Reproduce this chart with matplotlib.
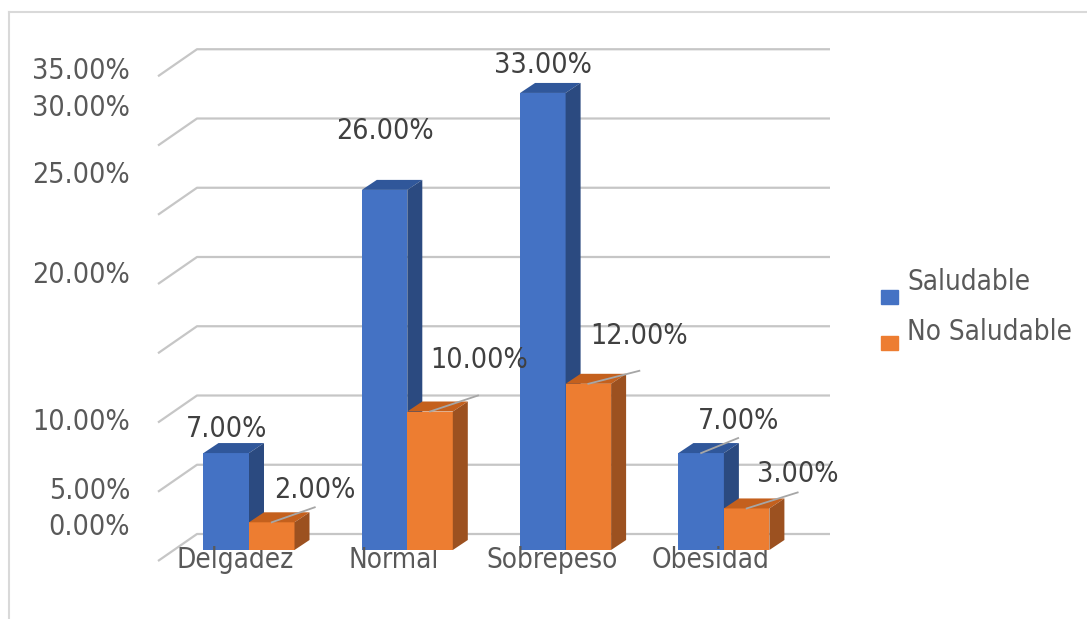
import matplotlib.pyplot as plt
from matplotlib.lines import Line2D
from matplotlib.patches import Polygon, Rectangle

categories = ["Delgadez", "Normal", "Sobrepeso", "Obesidad"]
series_names = ["Saludable", "No Saludable"]
saludable = [7.0, 26.0, 33.0, 7.0]
no_saludable = [2.0, 10.0, 12.0, 3.0]
grid_values = [0, 5, 10, 15, 20, 25, 30, 35]
# Excel left these axis labels slightly out of place (15% is missing)
axis_labels = ["35.00%", "30.00%", "25.00%", "20.00%", "10.00%", "5.00%", "0.00%"]
axis_label_y = [71, 108, 175, 275, 422, 491, 527]  # pixel rows

W, H = 1087, 619
PX_X = 158.3  # pixels per category
PX_Y = 13.85  # pixels per percent
X0, Y0 = 249, 550  # pixel of category 0 / value 0 on the bar front plane

front_col = ["#4472C4", "#ED7D31"]
side_col = ["#2B4A80", "#9C5120"]
top_col = ["#30579A", "#C4601D"]
text_dark = "#404040"
text_axis = "#595959"
grid_col = "#C6C6C6"

font = dict(family="DejaVu Sans", fontstretch="condensed")

fig = plt.figure(figsize=(W / 100, H / 100), dpi=100)
ax = fig.add_axes([0, 0, 1, 1])
ax.set_xlim(-X0 / PX_X, (W - X0) / PX_X)
ax.set_ylim((Y0 - H) / PX_Y, Y0 / PX_Y)
ax.axis("off")


def px(x, y):
    # pixel (from top-left) -> data coords
    return (x - X0) / PX_X, (Y0 - y) / PX_Y


# outer border
fig.add_artist(Line2D([9 / W, 9 / W], [0, 1 - 12 / H], color="#D9D9D9", lw=1.5))
fig.add_artist(Line2D([9 / W, 1], [1 - 12 / H, 1 - 12 / H], color="#D9D9D9", lw=1.5))

# back wall gridlines + floor/side diagonals
bx0, by0 = px(197, 534)
bx1, _ = px(830, 534)
fx0, fy0 = px(158, 561)
for v in grid_values:
    ax.plot([fx0, bx0, bx1], [fy0 + v, by0 + v, by0 + v], color=grid_col, lw=1.6,
            zorder=1, solid_capstyle="butt")

# 3D bars
w = 45.5 / PX_X
ddx, ddy = 15 / PX_X, 10 / PX_Y
for s, vals in enumerate([saludable, no_saludable]):
    for i, v in enumerate(vals):
        left = i - w + s * w
        z = 3 + s * 3
        ax.bar(left + w / 2, v, width=w, color=front_col[s], zorder=z)
        ax.add_patch(Polygon([(left, v), (left + w, v), (left + w + ddx, v + ddy),
                              (left + ddx, v + ddy)], closed=True,
                             facecolor=top_col[s], edgecolor="none", zorder=z))
        ax.add_patch(Polygon([(left + w, 0), (left + w + ddx, ddy),
                              (left + w + ddx, v + ddy), (left + w, v)], closed=True,
                             facecolor=side_col[s], edgecolor="none", zorder=z))

# data labels: offsets in pixels from front-top centre, leader end offset
lbl_off = [
    [(0, -24), (0, -59), (0, -28), (37, -32)],
    [(43, -32), (49, -52), (51, -48), (51, -34)],
]
leader_end = [
    [None, None, None, (37, -15)],
    [(43, -15), (48, -16), (51, -13), (51, -16)],
]
for s, vals in enumerate([saludable, no_saludable]):
    for i, v in enumerate(vals):
        cx = i - w / 2 + s * w
        ldx, ldy = lbl_off[s][i]
        if leader_end[s][i] is not None:
            ex, ey = leader_end[s][i]
            ax.plot([cx, cx + ex / PX_X], [v, v - ey / PX_Y], color="#A6A6A6",
                    lw=1.3, zorder=10)
        ax.text(cx + ldx / PX_X, v - ldy / PX_Y, f"{v:.2f}%", ha="center",
                va="center", fontsize=20.5, color=text_dark, zorder=11, **font)

# value axis labels
for lab, yp in zip(axis_labels, axis_label_y):
    fig.text(130 / W, 1 - yp / H, lab, ha="right", va="center", fontsize=20.5,
             color=text_axis, **font)

# category labels
for i, c in enumerate(categories):
    ax.text(i - 0.085, px(0, 560)[1], c, ha="center", va="center", fontsize=20,
            color=text_axis, **font)

# legend
for s, name in enumerate(series_names):
    top = 290 + s * 46
    fig.add_artist(Rectangle((881 / W, 1 - (top + 14) / H), 17 / W, 14 / H,
                             transform=fig.transFigure, color=front_col[s]))
    fig.text(907 / W, 1 - (282 + s * 50) / H, name, ha="left", va="center",
             fontsize=20, color=text_axis, **font)

plt.savefig("out.png", dpi=100)
